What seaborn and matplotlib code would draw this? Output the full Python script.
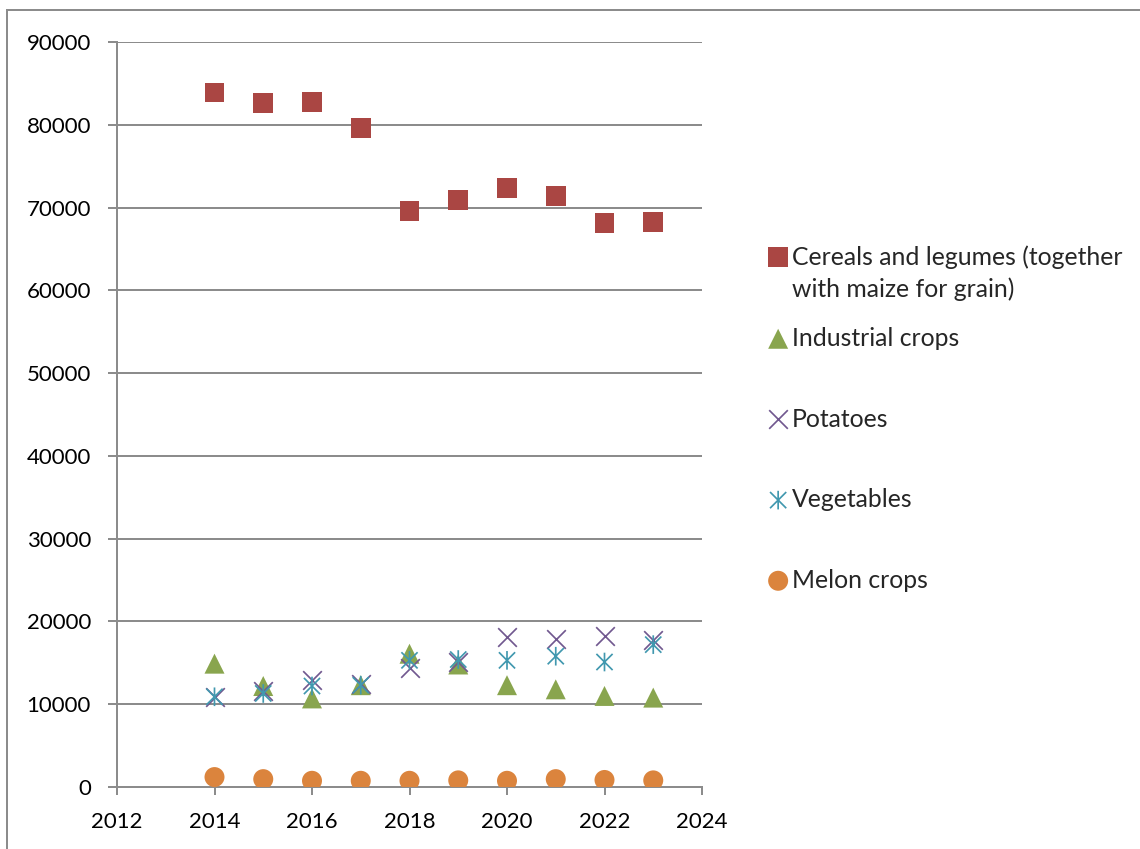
import matplotlib
matplotlib.use("Agg")
import matplotlib.pyplot as plt
import seaborn as sns
import pandas as pd
from matplotlib.path import Path
from matplotlib.patches import Rectangle
from matplotlib.offsetbox import DrawingArea

# Sown area by crop group, hectares
years = [2014, 2015, 2016, 2017, 2018, 2019, 2020, 2021, 2022, 2023]
cereals = [83900, 82600, 82800, 79600, 69600, 70900, 72400, 71400, 68100, 68300]
industrial = [14900, 12200, 10700, 12300, 16100, 14800, 12300, 11800, 11000, 10800]
potatoes = [10900, 11600, 12900, 12400, 14400, 15100, 18100, 17900, 18200, 17700]
vegetables = [10900, 11300, 12200, 12300, 15300, 15400, 15300, 15800, 15100, 17200]
melon = [1200, 950, 750, 750, 750, 800, 750, 950, 850, 800]

labels = [
    "Cereals and legumes (together\nwith maize for grain)",
    "Industrial crops",
    "Potatoes",
    "Vegetables",
    "Melon crops",
]
x_ticks = list(range(2012, 2025, 2))
y_ticks = list(range(0, 90001, 10000))

sns.set_theme(style="white")
plt.rcParams["font.family"] = ["Lato", "DejaVu Sans"]

GRID = "#8c8c8c"
px = 72 / 100  # one pixel in points

fig = plt.figure(figsize=(11.4, 8.49), dpi=100)
fig.patch.set_facecolor("white")
ax = fig.add_axes([117 / 1140, 1 - 787 / 849, (702 - 117) / 1140, (787 - 42) / 849])

# six-armed star: a cross plus a vertical bar
star = Path(
    [(-1, -1), (1, 1), (-1, 1), (1, -1), (0, -1.15), (0, 1.15)],
    [Path.MOVETO, Path.LINETO, Path.MOVETO, Path.LINETO, Path.MOVETO, Path.LINETO],
)

series = [
    (cereals, "#AA4643", "s", "fill", 207),
    (industrial, "#89A54E", "^", "fill", 207),
    (potatoes, "#71588F", "x", "line", 180),
    (vegetables, "#4198AF", star, "path", 180),
    (melon, "#DB843D", "o", "fill", 207),
]

for (vals, color, marker, kind, size), label in zip(series, labels):
    df = pd.DataFrame({"year": years, "value": vals})
    if kind == "fill":
        sns.scatterplot(data=df, x="year", y="value", ax=ax, marker=marker, s=size,
                        color=color, edgecolor="none", linewidth=0, label=label, zorder=3)
    elif kind == "line":
        sns.scatterplot(data=df, x="year", y="value", ax=ax, marker=marker, s=size,
                        color=color, linewidth=1.7 * px, label=label, zorder=3)
    else:
        sns.scatterplot(data=df, x="year", y="value", ax=ax, marker=marker, s=size,
                        facecolors="none", edgecolors=color, linewidth=1.7 * px,
                        label=label, zorder=3)

ax.set_xlim(2012, 2024)
ax.set_ylim(0, 90000)
ax.set_xticks(x_ticks)
ax.set_yticks(y_ticks)
ax.set_xlabel("")
ax.set_ylabel("")
ax.yaxis.grid(True, color=GRID, linewidth=2 * px)
ax.xaxis.grid(False)
ax.set_axisbelow(True)
for side in ("top", "right"):
    ax.spines[side].set_visible(False)
for side in ("left", "bottom"):
    ax.spines[side].set_color(GRID)
    ax.spines[side].set_linewidth(2 * px)
ax.tick_params(axis="y", direction="out", length=9 * px, width=2 * px, color=GRID,
               pad=17 * px, labelsize=16, labelcolor="black", left=True)
ax.tick_params(axis="x", direction="out", length=8 * px, width=2 * px, color=GRID,
               pad=17 * px, labelsize=16, labelcolor="black", bottom=True)

handles, leg_labels = ax.get_legend_handles_labels()
ax.get_legend().remove()
leg = fig.legend(handles, leg_labels, loc="upper left",
                 bbox_to_anchor=(769 / 1140, 1 - 245 / 849),
                 frameon=False, fontsize=17.8, handlelength=0.74, handleheight=1.3,
                 handletextpad=0.2, labelspacing=0.5, borderpad=0, borderaxespad=0)
for t in leg.get_texts():
    t.set_linespacing(1.47)
# align markers with the first line of each label, and widen gaps between entries
column = leg._legend_handle_box.get_children()[0]
items = column.get_children()
for it in items:
    it.align = "top"
new_items = [items[0], DrawingArea(1, 1 * px), items[1]]
for it in items[2:]:
    new_items.append(DrawingArea(1, 29 * px))
    new_items.append(it)
items[:] = new_items

# chart area frame
fig.patches.append(Rectangle((7 / 1140, -0.05), 1.2, 1 - 10 / 849 + 0.05,
                             transform=fig.transFigure, fill=False,
                             edgecolor=GRID, linewidth=2 * px))

fig.savefig("out.png", dpi=100, facecolor="white")
